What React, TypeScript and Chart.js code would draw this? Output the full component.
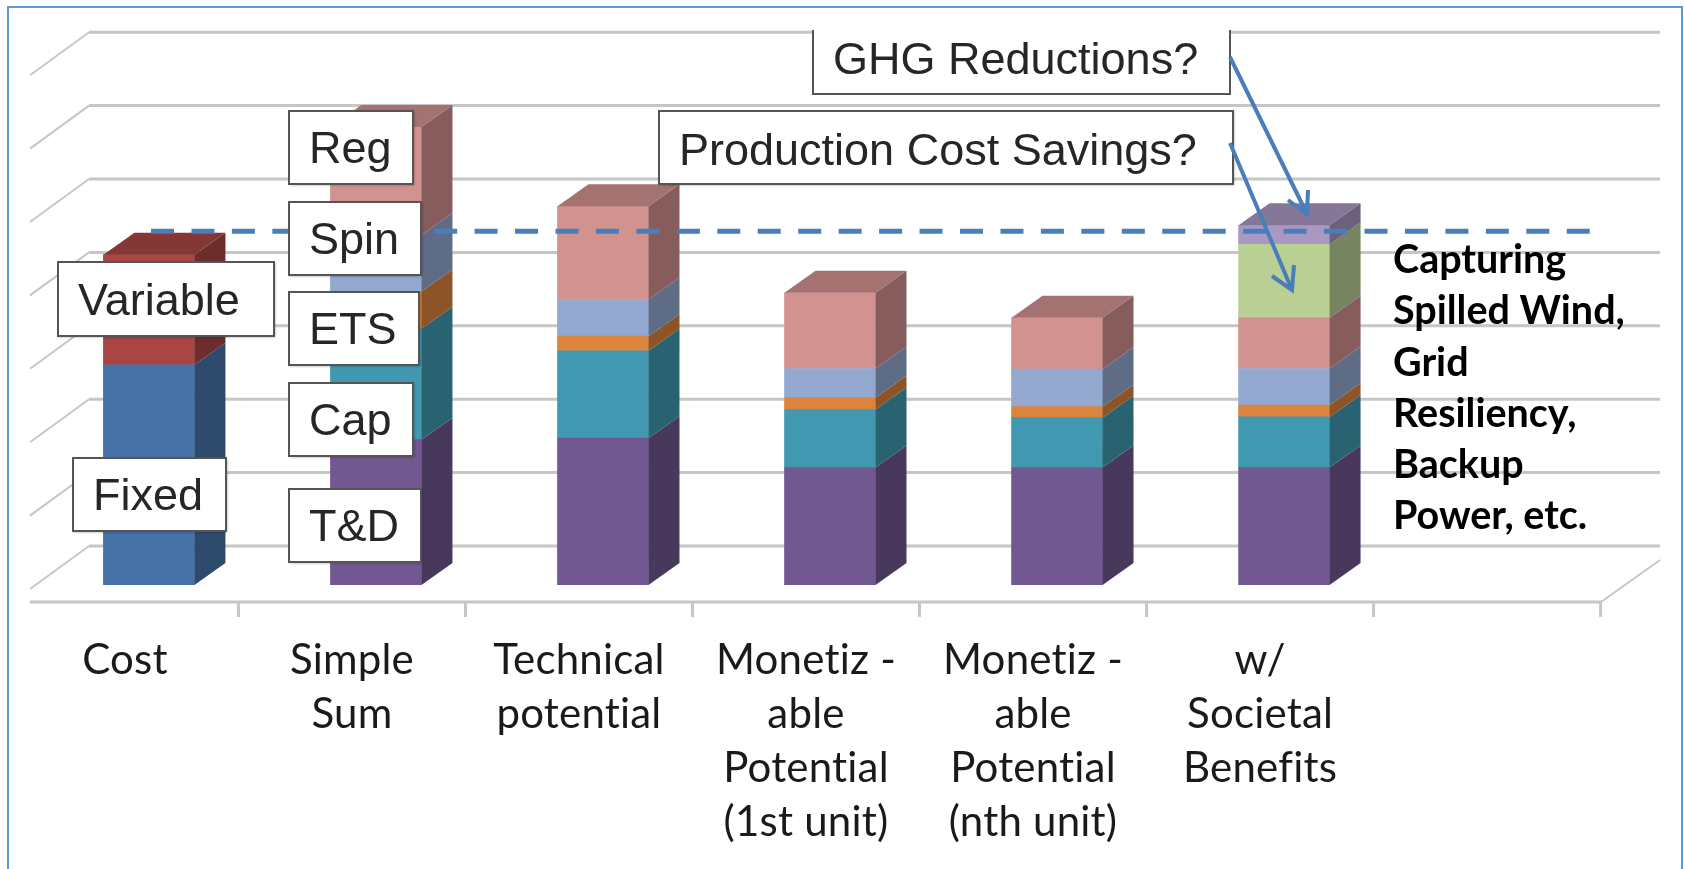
import React, { useEffect, useRef } from "react";
import { Chart, registerables } from "chart.js";

Chart.register(...registerables);

const categories: string[][] = [
  ["Cost"],
  ["Simple", "Sum"],
  ["Technical", "potential"],
  ["Monetiz -", "able", "Potential", "(1st unit)"],
  ["Monetiz -", "able", "Potential", "(nth unit)"],
  ["w/", "Societal", "Benefits"],
  [""],
];

const fixed = [3.0, null, null, null, null, null, null];
const variable = [1.5, null, null, null, null, null, null];
const tnd = [null, 1.98, 2.0, 1.6, 1.6, 1.6, null];
const cap = [null, 1.51, 1.19, 0.79, 0.68, 0.69, null];
const ets = [null, 0.51, 0.2, 0.16, 0.15, 0.16, null];
const spin = [null, 0.77, 0.5, 0.4, 0.51, 0.5, null];
const reg = [null, 1.47, 1.27, 1.03, 0.7, 0.69, null];
const productionCost = [null, null, null, null, null, 1.0, null];
const ghg = [null, null, null, null, null, 0.26, null];

const gridValues = [0, 1, 2, 3, 4, 5, 6, 7];
const costLevel = [4.82];

const seriesColors = ["#4672A8", "#A94644", "#715890", "#4099B0", "#DB843D", "#94A9D0", "#D29290", "#B9CF94", "#A998C2"];
const seriesNames = ["Fixed", "Variable", "T&D", "Cap", "ETS", "Spin", "Reg", "Production Cost Savings", "GHG Reductions"];
const seriesValues = [fixed, variable, tnd, cap, ets, spin, reg, productionCost, ghg];

const DX = 31;
const DY = 22;
const BACK_LIFT = 39;
const BLUE = "#4A7EBB";
const ARIAL = '"Liberation Sans", Arial, sans-serif';
const LABEL = 'Lato, "Open Sans", sans-serif';
const SOFT = "blur(0.7px)";

function shade(hex: string, k: number) {
  const n = parseInt(hex.slice(1), 16);
  return `rgb(${((n >> 16) & 255) * k},${((n >> 8) & 255) * k},${(n & 255) * k})`;
}

const backdrop = {
  id: "backdrop",
  beforeDraw(chart: any) {
    const { ctx } = chart;
    ctx.letterSpacing = "0.2px";
    ctx.filter = SOFT;
  },
  beforeDatasetsDraw(chart: any) {
    const { ctx, scales } = chart;
    const y = scales.y;
    const x = scales.x;
    ctx.save();
    ctx.strokeStyle = "#C6C6C6";
    ctx.lineCap = "butt";
    for (const v of gridValues) {
      const py = y.getPixelForValue(v) - BACK_LIFT;
      ctx.lineWidth = 3;
      ctx.beginPath();
      ctx.moveTo(89, py);
      ctx.lineTo(1660, py);
      ctx.stroke();
      ctx.lineWidth = 2;
      ctx.beginPath();
      ctx.moveTo(89, py);
      ctx.lineTo(30, py + 43);
      ctx.stroke();
    }
    ctx.lineWidth = 3;
    ctx.beginPath();
    ctx.moveTo(30, 602);
    ctx.lineTo(1601, 602);
    ctx.stroke();
    ctx.lineWidth = 2;
    ctx.beginPath();
    ctx.moveTo(1601, 602);
    ctx.lineTo(1660, 560);
    ctx.stroke();
    const band = x.getPixelForValue(1) - x.getPixelForValue(0);
    ctx.lineWidth = 3;
    for (let i = 0; i < categories.length; i++) {
      const px = x.getPixelForValue(i) - 24 + band / 2;
      ctx.beginPath();
      ctx.moveTo(px, 602);
      ctx.lineTo(px, 617);
      ctx.stroke();
    }
    ctx.restore();
  },
  afterDatasetsDraw(chart: any) {
    const { ctx } = chart;
    ctx.save();
    const tops: Record<number, { bar: any; color: string }> = {};
    chart.data.datasets.forEach((ds: any, di: number) => {
      const meta = chart.getDatasetMeta(di);
      meta.data.forEach((bar: any, i: number) => {
        if (ds.data[i] == null) return;
        const right = bar.x + bar.width / 2;
        ctx.fillStyle = shade(ds.backgroundColor, 0.64);
        ctx.beginPath();
        ctx.moveTo(right, bar.y);
        ctx.lineTo(right + DX, bar.y - DY);
        ctx.lineTo(right + DX, bar.base - DY);
        ctx.lineTo(right, bar.base);
        ctx.closePath();
        ctx.fill();
        tops[i] = { bar, color: ds.backgroundColor };
      });
    });
    Object.values(tops).forEach(({ bar, color }) => {
      const left = bar.x - bar.width / 2;
      const right = bar.x + bar.width / 2;
      ctx.fillStyle = shade(color, 0.78);
      ctx.beginPath();
      ctx.moveTo(left, bar.y);
      ctx.lineTo(left + DX, bar.y - DY);
      ctx.lineTo(right + DX, bar.y - DY);
      ctx.lineTo(right, bar.y);
      ctx.closePath();
      ctx.fill();
    });
    ctx.restore();
  },
};

const annotationBoxes = [
  { text: "Reg", x: 289, y: 111, w: 124, h: 73, dy: 4 },
  { text: "Spin", x: 289, y: 202, w: 132, h: 73, dy: 4 },
  { text: "ETS", x: 289, y: 292, w: 130, h: 73, dy: 4 },
  { text: "Cap", x: 289, y: 383, w: 124, h: 73, dy: 4 },
  { text: "T&D", x: 289, y: 489, w: 132, h: 73, dy: 4 },
  { text: "Variable", x: 58, y: 262, w: 216, h: 74, dy: 5 },
  { text: "Fixed", x: 73, y: 458, w: 153, h: 73, dy: 4 },
  { text: "Production Cost Savings?", x: 659, y: 111, w: 574, h: 73, dy: 6 },
];
const topBox = { text: "GHG Reductions?", x: 813, y: 30, w: 417, h: 64 };

const arrows = [
  { from: [1230, 57], to: [1307, 214], a: [1288, 200], b: [1308, 190] },
  { from: [1230, 143], to: [1292, 290], a: [1272, 276], b: [1294, 265] },
];

const noteLines = ["Capturing", "Spilled Wind,", "Grid", "Resiliency,", "Backup", "Power, etc."];

function boxText(ctx: any, text: string, x: number, y: number) {
  ctx.fillStyle = "#262626";
  ctx.font = `45px ${ARIAL}`;
  ctx.textAlign = "left";
  ctx.textBaseline = "middle";
  ctx.fillText(text, x, y);
}

const overlay = {
  id: "overlay",
  afterDraw(chart: any) {
    const { ctx, scales } = chart;
    ctx.save();
    ctx.letterSpacing = "0px";
    const ly = scales.y.getPixelForValue(costLevel[0]);
    ctx.strokeStyle = BLUE;
    ctx.lineWidth = 5;
    ctx.setLineDash([23, 17.45]);
    ctx.beginPath();
    ctx.moveTo(151, ly);
    ctx.lineTo(1592, ly);
    ctx.stroke();
    ctx.setLineDash([]);

    for (const b of annotationBoxes) {
      ctx.save();
      ctx.shadowColor = "rgba(0,0,0,0.35)";
      ctx.shadowBlur = 3;
      ctx.shadowOffsetX = 1;
      ctx.shadowOffsetY = 1;
      ctx.fillStyle = "#FFFFFF";
      ctx.fillRect(b.x, b.y, b.w, b.h);
      ctx.restore();
      ctx.strokeStyle = "#555555";
      ctx.lineWidth = 2;
      ctx.strokeRect(b.x, b.y, b.w, b.h);
      boxText(ctx, b.text, b.x + 20, b.y + b.h / 2 + b.dy - 1);
    }

    // the top box runs off the cropped top of the plot, so it has no upper edge
    ctx.fillStyle = "#FFFFFF";
    ctx.fillRect(topBox.x, topBox.y - 3, topBox.w, topBox.h + 3);
    ctx.strokeStyle = "#555555";
    ctx.lineWidth = 2;
    ctx.beginPath();
    ctx.moveTo(topBox.x, topBox.y);
    ctx.lineTo(topBox.x, topBox.y + topBox.h);
    ctx.lineTo(topBox.x + topBox.w, topBox.y + topBox.h);
    ctx.lineTo(topBox.x + topBox.w, topBox.y);
    ctx.stroke();
    boxText(ctx, topBox.text, topBox.x + 20, topBox.y + 32);

    ctx.strokeStyle = BLUE;
    ctx.lineWidth = 4;
    for (const a of arrows) {
      ctx.beginPath();
      ctx.moveTo(a.from[0], a.from[1]);
      ctx.lineTo(a.to[0], a.to[1]);
      ctx.moveTo(a.a[0], a.a[1]);
      ctx.lineTo(a.to[0], a.to[1]);
      ctx.lineTo(a.b[0], a.b[1]);
      ctx.stroke();
    }

    ctx.filter = "none";
    ctx.fillStyle = "#000000";
    ctx.font = `bold 39.5px ${LABEL}`;
    ctx.textAlign = "left";
    ctx.textBaseline = "middle";
    noteLines.forEach((t, i) => ctx.fillText(t, 1393, 260.5 + i * 51.2));

    ctx.strokeStyle = "#5B9BD5";
    ctx.lineWidth = 2;
    ctx.beginPath();
    ctx.rect(8, 7, 1674, 900);
    ctx.stroke();
    ctx.restore();
  },
};

export default function App() {
  const ref = useRef<HTMLCanvasElement>(null);
  useEffect(() => {
    if (!ref.current) return;
    const chart = new Chart(ref.current, {
      type: "bar",
      data: {
        labels: categories as any,
        datasets: seriesValues.map((data, i) => ({
          label: seriesNames[i],
          data,
          backgroundColor: seriesColors[i],
          borderWidth: 0,
          barThickness: 91,
        })),
      },
      plugins: [backdrop, overlay],
      options: {
        responsive: false,
        animation: false,
        layout: { padding: { left: 35.4, right: 59.4, top: 34.5, bottom: 0 } },
        plugins: { legend: { display: false }, tooltip: { enabled: false } },
        scales: {
          x: {
            stacked: true,
            grid: { display: false },
            border: { display: false },
            afterFit(scale: any) {
              scale.height = 284;
            },
            ticks: {
              autoSkip: false,
              maxRotation: 0,
              minRotation: 0,
              labelOffset: -24,
              padding: 40,
              color: "#1a1a1a",
              font: { family: LABEL, size: 42, lineHeight: 54 / 42 },
            },
          },
          y: { stacked: true, display: false, min: 0, max: 7.5 },
        },
      } as any,
    });
    return () => chart.destroy();
  }, []);
  return (
    <canvas
      ref={ref}
      width={1684}
      height={869}
      style={{ position: "absolute", left: 0, top: 0, display: "block", background: "#fff" }}
    />
  );
}
